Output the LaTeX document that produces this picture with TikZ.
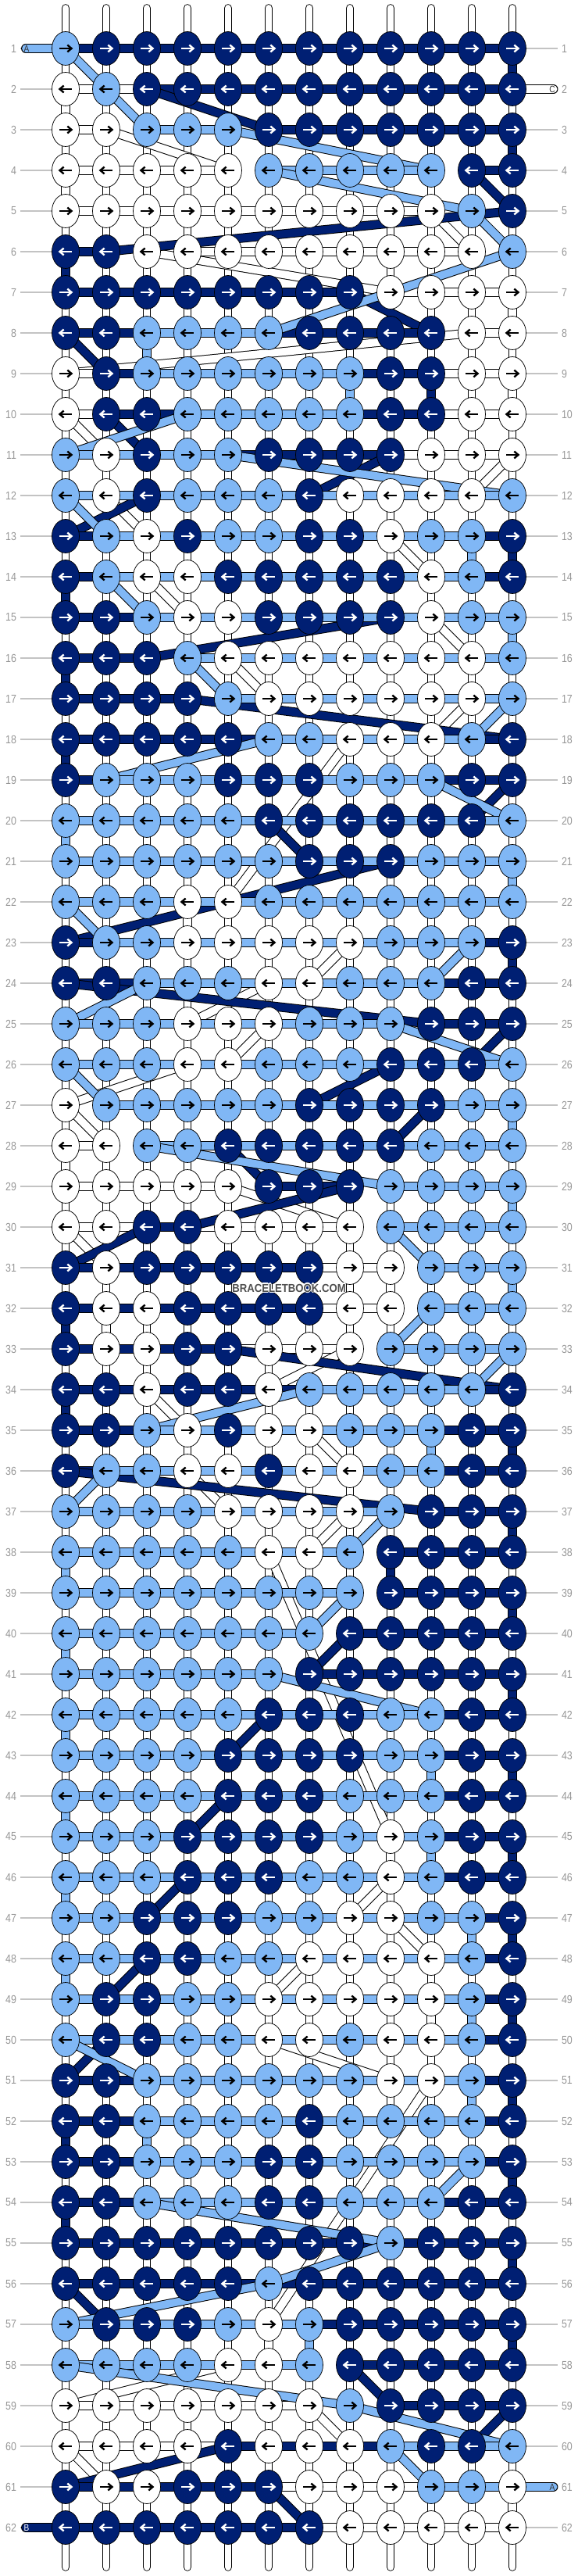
\documentclass[tikz,border=0pt]{standalone}
\usepackage{fontspec}
\setmainfont{Liberation Sans}
\newfontfamily\rownumfont{Liberation Sans}[FakeStretch=0.85]
\newfontfamily\wmfont{Liberation Sans}[FakeStretch=0.9]
\usetikzlibrary{shapes.geometric}

\definecolor{knotdark}{RGB}{0,31,115}
\definecolor{knotlight}{RGB}{128,183,245}
\definecolor{rowgray}{RGB}{150,150,150}
\definecolor{linegray}{RGB}{195,195,195}
\definecolor{wmgray}{RGB}{80,80,80}

\pgfdeclarelayer{base}
\pgfdeclarelayer{strands}
\pgfsetlayers{base,strands,main}

\tikzset{
    knot/.style={ellipse, draw=black, line width=0.4pt,
        minimum width=0.673cm, minimum height=0.827cm, inner sep=0pt},
    knotD/.style={knot, fill=knotdark},
    knotL/.style={knot, fill=knotlight},
    knotW/.style={knot, fill=white},
    arrD/.style={color=white},
    arrL/.style={color=black},
    arrW/.style={color=black},
    strand/.style={draw=black, line width=0.55pt, double distance=0.19cm, line cap=round},
    strD/.style={strand, double=knotdark},
    strL/.style={strand, double=knotlight},
    strW/.style={strand, double=white},
    basestr/.style={draw=black, line width=0.5pt, double=white, double distance=0.17cm, line cap=round},
    rownum/.style={font=\rownumfont\fontsize{8}{8}\selectfont, text=rowgray, inner sep=0.09cm},
    rowline/.style={draw=linegray, line width=0.6pt},
    tabtext/.style={font=\rownumfont\fontsize{6.5}{6.5}\selectfont, inner sep=0pt},
    wmark/.style={font=\wmfont\fontsize{8}{8}\selectfont\bfseries, text=wmgray, inner sep=0pt},
    pics/knotarrow/.style={code={
        \draw[line width=1.3pt] (-0.145,0) -- (0.13,0);
        \draw[line width=1.3pt, line join=miter] (0.045,-0.085) -- (0.145,0) -- (0.045,0.085);
    }},
}

\begin{document}
\begin{tikzpicture}
    \useasboundingbox (-7.1154,-31.6923) rectangle (7.1154,31.6923);

    % knots, one row at a time
    \foreach \r/\row in {
        1/{L,D,D,D,D,D,D,D,D,D,D,D},
        2/{W,L,D,D,D,D,D,D,D,D,D,D},
        3/{W,W,L,L,L,D,D,D,D,D,D,D},
        4/{W,W,W,W,W,L,L,L,L,L,D,D},
        5/{W,W,W,W,W,W,W,W,W,W,L,D},
        6/{D,D,W,W,W,W,W,W,W,W,W,L},
        7/{D,D,D,D,D,D,D,D,W,W,W,W},
        8/{D,D,L,L,L,L,D,D,D,D,W,W},
        9/{W,D,L,L,L,L,L,L,D,D,W,W},
        10/{W,D,D,L,L,L,L,L,D,D,W,W},
        11/{L,W,D,L,L,D,D,D,D,W,W,W},
        12/{L,W,D,L,L,L,D,W,W,W,W,L},
        13/{D,L,W,D,L,L,D,D,W,L,L,D},
        14/{D,L,W,W,D,D,D,D,D,W,L,D},
        15/{D,D,L,W,W,D,D,D,D,W,L,L},
        16/{D,D,D,L,W,W,W,W,W,W,W,L},
        17/{D,D,D,D,L,W,W,W,W,W,W,L},
        18/{D,D,D,D,D,L,L,W,W,W,L,D},
        19/{D,L,L,L,D,D,D,L,L,L,D,D},
        20/{L,L,L,L,L,D,D,D,D,D,D,L},
        21/{L,L,L,L,L,L,D,D,D,L,L,L},
        22/{L,L,L,W,W,L,L,L,L,L,L,L},
        23/{D,L,L,W,W,W,W,W,L,L,L,D},
        24/{D,D,L,L,L,W,W,L,L,L,D,D},
        25/{L,L,L,W,W,W,L,L,L,D,D,D},
        26/{L,L,L,W,W,L,L,L,D,D,D,L},
        27/{W,L,L,L,L,L,D,D,D,D,L,L},
        28/{W,W,L,L,D,D,D,D,D,L,L,L},
        29/{W,W,W,W,W,D,D,D,L,L,L,L},
        30/{W,W,D,D,W,W,W,W,L,L,L,L},
        31/{D,W,D,D,D,D,D,W,W,L,L,L},
        32/{D,W,W,D,D,D,D,W,W,L,L,L},
        33/{D,W,W,D,D,W,W,W,L,L,L,L},
        34/{D,D,W,D,D,W,L,L,L,L,L,D},
        35/{D,D,L,W,D,W,W,L,L,L,D,D},
        36/{D,L,L,W,W,D,W,W,L,L,D,D},
        37/{L,L,L,L,W,W,W,W,L,D,D,D},
        38/{L,L,L,L,L,W,W,L,D,D,D,D},
        39/{L,L,L,L,L,L,L,L,D,D,D,D},
        40/{L,L,L,L,L,L,L,D,D,D,D,D},
        41/{L,L,L,L,L,L,D,D,D,D,D,D},
        42/{L,L,L,L,L,D,D,D,L,L,D,D},
        43/{L,L,L,L,D,D,D,D,L,L,D,D},
        44/{L,L,L,L,D,D,D,L,L,L,D,D},
        45/{L,L,L,D,D,D,D,L,W,L,D,D},
        46/{L,L,L,D,D,D,L,L,W,L,D,D},
        47/{L,L,D,D,D,L,L,W,W,L,L,D},
        48/{L,L,D,D,L,L,W,W,W,W,L,D},
        49/{L,D,D,L,L,W,W,W,W,W,L,D},
        50/{L,D,D,L,L,W,W,L,W,W,L,D},
        51/{D,D,L,L,L,L,L,L,W,W,L,D},
        52/{D,D,L,L,L,L,D,L,L,L,L,D},
        53/{D,D,L,L,L,D,D,L,L,L,L,D},
        54/{D,D,L,L,L,D,D,L,L,L,D,D},
        55/{D,D,D,D,D,D,D,D,L,D,D,D},
        56/{D,D,D,D,D,L,D,D,D,D,D,D},
        57/{L,D,D,D,L,W,L,D,D,D,D,D},
        58/{L,L,L,L,W,W,L,D,D,D,D,D},
        59/{W,W,W,W,W,W,W,L,D,D,D,D},
        60/{W,W,W,W,D,W,W,W,L,D,D,L},
        61/{D,W,W,D,D,D,W,W,W,L,L,W},
        62/{D,D,D,D,D,D,D,W,W,W,W,W}} {
        \pgfmathsetmacro\rowdir{isodd(\r) ? 1 : -1}
        \foreach \c [count=\i] in \row {
            \node[knot\c] (k-\r-\i) at ({\i-6.5},{31.5-\r}) {};
            \pic[arr\c, xscale=\rowdir] at (k-\r-\i) {knotarrow};
        }
    }

    \begin{pgfonlayer}{base}
        % vertical strings
        \foreach \i in {1,...,12} {
            \coordinate (top-\i) at ({\i-6.5},31.49);
            \coordinate (bot-\i) at ({\i-6.5},-31.47);
            \draw[basestr] (top-\i) -- (bot-\i);
        }
        % row numbers
        \foreach \r in {1,...,62} {
            \node[rownum, anchor=east] (numL-\r) at (-6.615,{31.5-\r}) {\r};
            \node[rownum, anchor=west] (numR-\r) at (6.615,{31.5-\r}) {\r};
            \draw[rowline] (numL-\r) -- (k-\r-1);
            \draw[rowline] (k-\r-12) -- (numR-\r);
        }
    \end{pgfonlayer}

    \begin{pgfonlayer}{strands}
        \coordinate (tabA1) at (-6.48,30.5);
        \coordinate (tabC2) at (6.51,29.5);
        \coordinate (tabA61) at (6.51,-29.5);
        \coordinate (tabB62) at (-6.48,-30.5);

        % string C
        \foreach \b [remember=\b as \a (initially tabC2)] in {
            k-2-1, k-3-1, k-3-2, k-4-5, k-4-1, k-5-1, k-5-10, k-6-11, k-6-3,
            k-7-9, k-7-12, k-8-12, k-8-11, k-9-1, k-9-12, k-10-12, k-10-1,
            k-11-2, k-11-12, k-12-11, k-12-2, k-13-3, k-13-9, k-14-10, k-14-3,
            k-15-4, k-15-10, k-16-11, k-16-5, k-17-6, k-17-11, k-18-10, k-18-8,
            k-22-5, k-22-4, k-23-4, k-23-8, k-24-7, k-24-6, k-25-4, k-25-6,
            k-26-5, k-26-4, k-27-1, k-28-2, k-28-1, k-29-1, k-29-5, k-30-8,
            k-30-1, k-31-2, k-31-9, k-32-9, k-32-2, k-33-2, k-33-8, k-34-6,
            k-34-3, k-35-4, k-35-7, k-36-8, k-36-4, k-37-5, k-37-8, k-38-7,
            k-38-6, k-45-9, k-46-9, k-47-8, k-47-9, k-48-10, k-48-7, k-49-6,
            k-49-10, k-50-10, k-50-6, k-51-9, k-51-10, k-57-6, k-58-6, k-58-5,
            k-59-1, k-59-7, k-60-8, k-60-1, k-61-2, k-61-12, k-62-12, k-62-8,
            k-62-1}
            \draw[strW] (\a.center) -- (\b.center);

        % string B
        \foreach \b [remember=\b as \a (initially k-1-1)] in {
            k-1-12, k-2-12, k-2-3, k-3-6, k-3-12, k-4-12, k-4-11, k-5-12,
            k-6-2, k-6-1, k-7-1, k-7-8, k-8-10, k-8-1, k-9-2, k-9-10, k-10-10,
            k-10-2, k-11-3, k-11-9, k-12-7, k-12-3, k-13-1, k-13-12, k-14-12,
            k-14-1, k-15-1, k-15-9, k-16-3, k-16-1, k-17-1, k-17-4, k-18-12,
            k-18-1, k-19-1, k-19-12, k-20-11, k-20-6, k-21-7, k-21-9, k-23-1,
            k-23-12, k-24-12, k-24-1, k-25-10, k-25-12, k-26-11, k-26-9,
            k-27-7, k-27-10, k-28-9, k-28-5, k-29-6, k-29-8, k-30-4, k-30-3,
            k-31-1, k-31-7, k-32-7, k-32-1, k-33-1, k-33-5, k-34-12, k-34-1,
            k-35-1, k-35-12, k-36-12, k-36-1, k-37-10, k-37-12, k-38-12,
            k-38-9, k-39-9, k-39-12, k-40-12, k-40-8, k-41-7, k-41-12,
            k-42-12, k-42-6, k-43-5, k-43-12, k-44-12, k-44-5, k-45-4,
            k-45-12, k-46-12, k-46-4, k-47-3, k-47-12, k-48-12, k-48-3,
            k-49-2, k-49-12, k-50-12, k-50-2, k-51-1, k-51-12, k-52-12,
            k-52-1, k-53-1, k-53-12, k-54-12, k-54-1, k-55-1, k-55-12,
            k-56-12, k-56-1, k-57-2, k-57-12, k-58-12, k-58-8, k-59-9,
            k-59-12, k-60-11, k-60-5, k-61-1, k-61-6, k-62-7, k-62-1, tabB62}
            \draw[strD] (\a.center) -- (\b.center);

        % string A
        \foreach \b [remember=\b as \a (initially tabA1)] in {
            k-1-1, k-2-2, k-3-3, k-3-5, k-4-10, k-4-6, k-5-11, k-6-12, k-8-6,
            k-8-3, k-9-3, k-9-8, k-10-8, k-10-4, k-11-1, k-11-5, k-12-12,
            k-12-1, k-13-2, k-13-11, k-14-11, k-14-2, k-15-3, k-15-12,
            k-16-12, k-16-4, k-17-5, k-17-12, k-18-11, k-18-6, k-19-2,
            k-19-10, k-20-12, k-20-1, k-21-1, k-21-12, k-22-12, k-22-1,
            k-23-2, k-23-11, k-24-10, k-24-3, k-25-1, k-25-9, k-26-12,
            k-26-1, k-27-2, k-27-12, k-28-12, k-28-3, k-29-9, k-29-12,
            k-30-12, k-30-9, k-31-10, k-31-12, k-32-12, k-32-10, k-33-9,
            k-33-12, k-34-11, k-34-7, k-35-3, k-35-10, k-36-10, k-36-2,
            k-37-1, k-37-9, k-38-8, k-38-1, k-39-1, k-39-8, k-40-7, k-40-1,
            k-41-1, k-41-6, k-42-10, k-42-1, k-43-1, k-43-10, k-44-10,
            k-44-1, k-45-1, k-45-10, k-46-10, k-46-1, k-47-1, k-47-11,
            k-48-11, k-48-1, k-49-1, k-49-11, k-50-11, k-50-1, k-51-3,
            k-51-11, k-52-11, k-52-3, k-53-3, k-53-11, k-54-10, k-54-3,
            k-55-9, k-56-6, k-57-1, k-57-7, k-58-7, k-58-1, k-59-8, k-60-12,
            k-60-9, k-61-10, k-61-11, tabA61}
            \draw[strL] (\a.center) -- (\b.center);
    \end{pgfonlayer}

    % string ends
    \node[tabtext, text=black!80] (endA1) at (-6.46,30.5) {A};
    \node[tabtext, text=black!80] (endC2) at (6.48,29.5) {C};
    \node[tabtext, text=black!80] (endA61) at (6.48,-29.5) {A};
    \node[tabtext, text=white] (endB62) at (-6.46,-30.5) {B};

    % watermark
    \foreach \dx/\dy [count=\n] in {0.6/0,-0.6/0,0/0.6,0/-0.6,0.45/0.45,-0.45/0.45,0.45/-0.45,-0.45/-0.45}
        \node[wmark, text=white] (wmh-\n) at (\dx pt,\dy pt) {BRACELETBOOK.COM};
    \node[wmark] (wm) at (0,0) {BRACELETBOOK.COM};
\end{tikzpicture}
\end{document}
